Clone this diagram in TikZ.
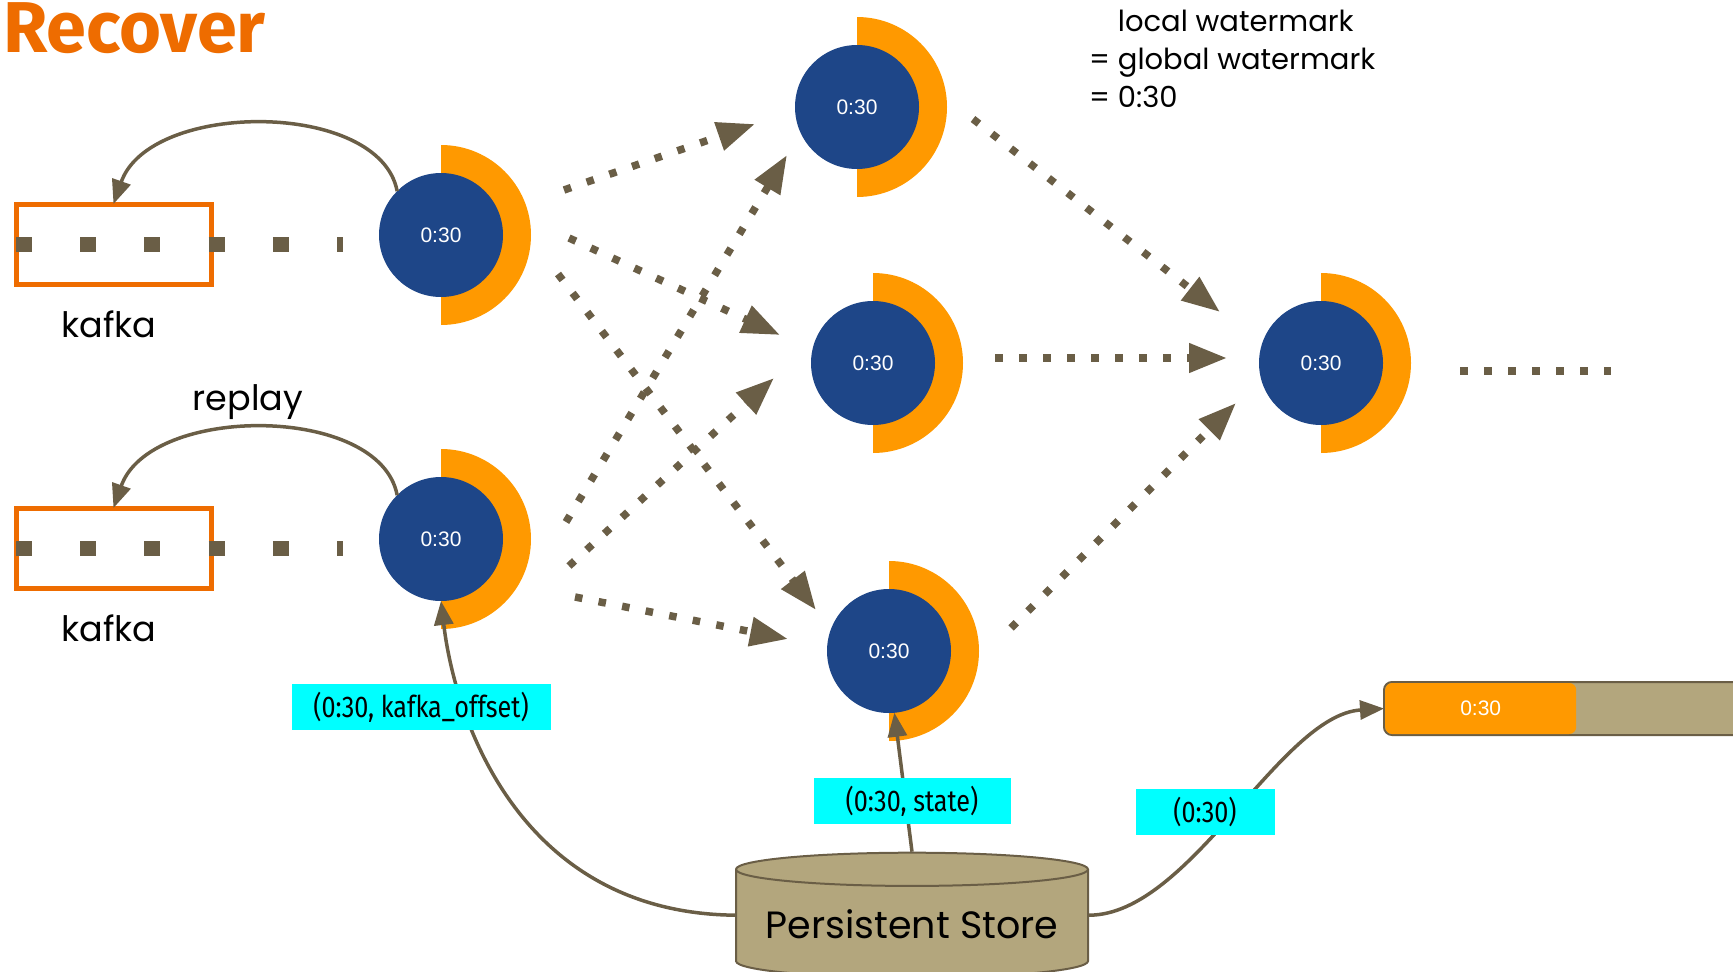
\documentclass[tikz,border=0pt]{standalone}
\usepackage{fontspec}
\setmainfont{Poppins}
\newfontfamily\numfont{Liberation Sans}
\newfontfamily\tagfont{Fira Sans}[FakeStretch=0.84]
\newfontfamily\headfont{Fira Sans}
\usepackage{xcolor}
\definecolor{wmblue}{RGB}{30,70,136}
\definecolor{wmorange}{RGB}{255,153,0}
\definecolor{kafkaorange}{RGB}{238,108,0}
\definecolor{linebrown}{RGB}{106,94,70}
\definecolor{storetan}{RGB}{179,166,125}
\definecolor{tagcyan}{RGB}{0,255,255}
\usepackage{tikz}
\usetikzlibrary{
    arrows.meta,
    positioning,
    shapes.geometric,
    backgrounds
}

\begin{document}
\begin{tikzpicture}[
        x=1pt, y=-1pt,
        op/.style={circle, fill=wmblue, minimum size=124pt, inner sep=0pt, outer sep=0pt, text=white, font=\numfont\fontsize{21}{21}\selectfont},
        kafka/.style={rectangle, draw=kafkaorange, line width=5pt, minimum width=195pt, minimum height=80pt, inner sep=0pt, outer sep=0pt},
        note/.style={inner sep=0pt, font=\fontsize{35}{35}\selectfont},
        tag/.style={rectangle, fill=tagcyan, minimum height=46pt, inner sep=0pt, font=\tagfont\fontsize{30}{30}\selectfont},
        feed/.style={draw=linebrown, line width=15pt, dash pattern=on 16pt off 48.2pt},
        flow/.style={draw=linebrown, line width=7.5pt, dash pattern=on 7.5pt off 16.5pt, -{Triangle[length=38pt, width=28pt]}},
        recover/.style={draw=linebrown, line width=3.5pt, -{Triangle[length=24pt, width=19pt]}}
    ]
        \useasboundingbox (0,0) rectangle (1733,972);
        \clip (0,0) rectangle (1733,972);

        \node[anchor=base west, inner sep=0pt, text=kafkaorange, font=\headfont\bfseries\fontsize{72}{72}\selectfont] (title) at (3,52) {Recover};

        % kafka partitions
        \node[kafka] (kafka1) at (113.5,244) {};
        \node[kafka] (kafka2) at (113.5,548) {};
        \node[note, anchor=base] (kafkalabel1) at (109,337) {kafka};
        \node[note, anchor=base] (kafkalabel2) at (109,641) {kafka};
        \node[note, anchor=base] (replaylabel) at (248,410) {replay};

        % operators, all back at 0:30
        \node[op] (src1) at (441,235) {0:30};
        \node[op] (src2) at (441,539) {0:30};
        \node[op] (op1) at (857,107) {0:30};
        \node[op] (op2) at (873,363) {0:30};
        \node[op] (op3) at (889,651) {0:30};
        \node[op] (sink) at (1321,363) {0:30};

        \begin{scope}[on background layer]
            \fill[wmorange] (src1.center) -- ++(0pt,90pt) arc[start angle=90, end angle=-90, radius=90pt] -- cycle;
            \fill[wmorange] (src2.center) -- ++(0pt,90pt) arc[start angle=90, end angle=-90, radius=90pt] -- cycle;
            \fill[wmorange] (op1.center) -- ++(0pt,90pt) arc[start angle=90, end angle=-90, radius=90pt] -- cycle;
            \fill[wmorange] (op2.center) -- ++(0pt,90pt) arc[start angle=90, end angle=-90, radius=90pt] -- cycle;
            \fill[wmorange] (op3.center) -- ++(0pt,90pt) arc[start angle=90, end angle=-90, radius=90pt] -- cycle;
            \fill[wmorange] (sink.center) -- ++(0pt,90pt) arc[start angle=90, end angle=-90, radius=90pt] -- cycle;
        \end{scope}

        \node[note, anchor=north west, align=left, font=\fontsize{29}{38}\selectfont] (watermark) at (1089,10) {\phantom{= }local watermark\\= global watermark\\= 0:30};

        % checkpoint storage
        \node[cylinder, shape border rotate=90, aspect=0.1136, draw=linebrown, line width=2pt, fill=storetan, minimum width=352pt, minimum height=125pt, inner sep=0pt, font=\fontsize{38}{38}\selectfont] (store) at (912,924) {Persistent Store};

        \node[rectangle, rounded corners=8pt, draw=linebrown, line width=2pt, fill=storetan, minimum width=400pt, minimum height=53pt, outer sep=0pt, anchor=west] (bar) at (1384,708.5) {};
        \node[rectangle, rounded corners=7pt, fill=wmorange, minimum width=191pt, minimum height=51pt, anchor=west, text=white, font=\numfont\fontsize{21}{21}\selectfont] (progress) at ([xshift=1pt]bar.west) {0:30};

        % input rows
        \draw[feed, shorten >=36pt] (kafka1.west) -- (kafka1.west -| src1.west);
        \draw[feed, shorten >=36pt] (kafka2.west) -- (kafka2.west -| src2.west);

        % replay
        \draw[recover] (src1.135) .. controls (380,100) and (150,100) .. (kafka1.north);
        \draw[recover] (src2.135) .. controls (380,404) and (150,404) .. (kafka2.north);

        % shuffle between stages
        \draw[flow] ([shift={(123,-45)}]src1.center) -- ([shift={(-102,17)}]op1.center);
        \draw[flow] ([shift={(128,3)}]src1.center) -- ([shift={(-93,-28)}]op2.center);
        \draw[flow] ([shift={(117,39)}]src1.center) -- ([shift={(-73,-41)}]op3.center);
        \draw[flow] ([shift={(125,-17)}]src2.center) -- ([shift={(-70,48)}]op1.center);
        \draw[flow] ([shift={(128,27)}]src2.center) -- ([shift={(-99,15)}]op2.center);
        \draw[flow] ([shift={(134,58)}]src2.center) -- ([shift={(-101,-12)}]op3.center);
        \draw[flow] ([shift={(116,12)}]op1.center) -- ([shift={(-101,-51)}]sink.center);
        \draw[flow] ([shift={(122,-5)}]op2.center) -- ([shift={(-94,-5)}]sink.center);
        \draw[flow] ([shift={(122,-23)}]op3.center) -- ([shift={(-85,40)}]sink.center);

        \coordinate (downstream) at (1611,371);
        \draw[flow, -] ([shift={(139,8)}]sink.center) -- (downstream);

        % restore from the store
        \draw[recover] (store.west |- store.shape center) .. controls (520,913) and (455,720) .. (src2.south);
        \draw[recover] (store.north) -- (op3.-85);
        \draw[recover] (store.east |- store.shape center) .. controls (1190,915) and (1280,715) .. (bar.west);

        \node[tag, minimum width=259pt] (offsettag) at (421,707) {(0:30, kafka\_offset)};
        \node[tag, minimum width=197pt] (statetag) at (912,801) {(0:30, state)};
        \node[tag, minimum width=139pt] (marktag) at (1205,812) {(0:30)};
    \end{tikzpicture}
\end{document}
